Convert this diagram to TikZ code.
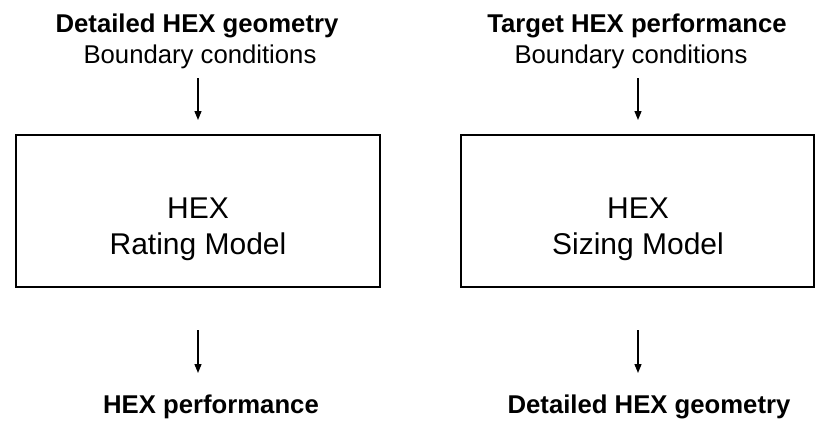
\documentclass[tikz,border=0pt]{standalone}
\usepackage{fontspec}
\setmainfont{Liberation Sans}
\usetikzlibrary{arrows.meta}
\begin{document}
\begin{tikzpicture}[x=1pt,y=-1pt,
  hdr/.style={anchor=base,inner sep=0pt,font=\fontsize{25.7}{31}\selectfont},
  boxtxt/.style={anchor=base,inner sep=0pt,font=\fontsize{30}{36}\selectfont},
  model/.style={draw,line width=2.6pt,rectangle,inner sep=0pt},
  flow/.style={line width=1.3pt,-{Triangle[length=9pt,width=7pt]}}]
\useasboundingbox (0,0) rectangle (816,421);
% left
\node[hdr] (lh1) at (197,32) {\bfseries Detailed HEX geometry};
\node[hdr] (lh2) at (200,63) {Boundary conditions};
\node[model,minimum width=364pt,minimum height=152pt] (lbox) at (198,211) {};
\node[boxtxt] (lt1) at (198,218) {HEX};
\node[boxtxt] (lt2) at (198,254) {Rating Model};
\node[hdr] (lo) at (211,413) {\bfseries HEX performance};
\coordinate (la1) at (198,78);
\coordinate (la2) at (198,330);
\draw[flow] (la1) -- (la1 |- 0,120);
\draw[flow] (la2) -- (la2 |- 0,373);
% right
\node[hdr] (rh1) at (637,32) {\bfseries Target HEX performance};
\node[hdr] (rh2) at (631,63) {Boundary conditions};
\node[model,minimum width=353pt,minimum height=152pt] (rbox) at (637.5,211) {};
\node[boxtxt] (rt1) at (638,218) {HEX};
\node[boxtxt] (rt2) at (638,254) {Sizing Model};
\node[hdr] (ro) at (649,413) {\bfseries Detailed HEX geometry};
\coordinate (ra1) at (638,78);
\coordinate (ra2) at (638,330);
\draw[flow] (ra1) -- (ra1 |- 0,120);
\draw[flow] (ra2) -- (ra2 |- 0,373);
\end{tikzpicture}
\end{document}
